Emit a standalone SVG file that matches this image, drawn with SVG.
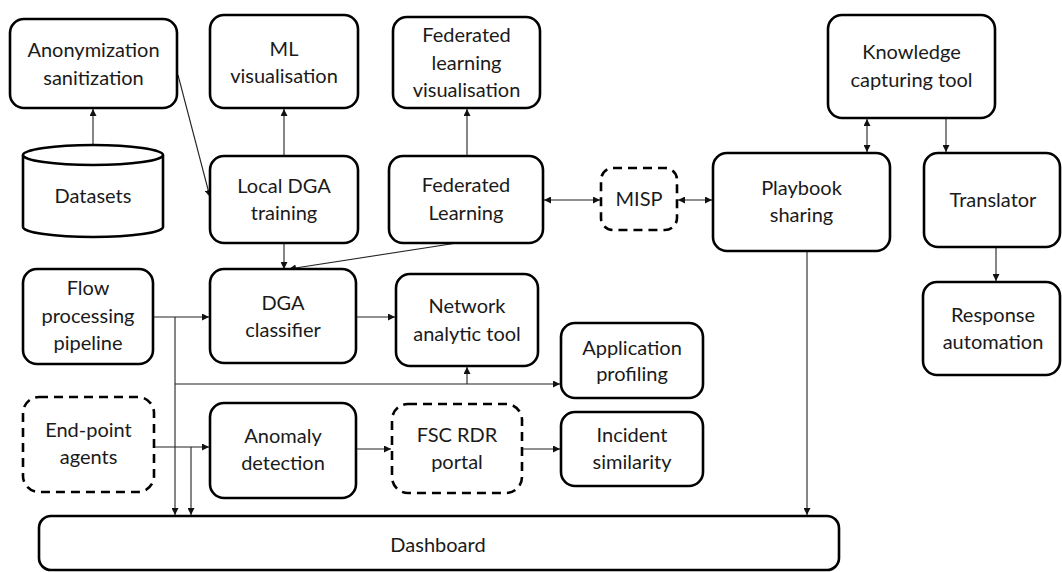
<svg xmlns="http://www.w3.org/2000/svg" width="1062" height="572" viewBox="0 0 1062 572">
<defs>
<style>
.box{fill:#fff;stroke:#000;stroke-width:2.6}
.dash{fill:#fff;stroke:#000;stroke-width:2.6;stroke-dasharray:9 6}
.t{font-family:Lato,"Liberation Sans",sans-serif;font-size:20px;fill:#1a1a1a;text-anchor:middle}
.c{fill:none;stroke:#222;stroke-width:1.1}
</style>
<marker id="a" viewBox="0 0 10 10" refX="10" refY="5" markerWidth="7" markerHeight="7" markerUnits="userSpaceOnUse" orient="auto-start-reverse">
<path d="M0,0L10,5L0,10z" fill="#111"/>
</marker>
</defs>
<rect width="1062" height="572" fill="#fff"/>
<g id="connectors">
<line class="c" x1="93" y1="145" x2="93" y2="109" marker-end="url(#a)"/>
<line class="c" x1="178" y1="75" x2="210" y2="197" marker-end="url(#a)"/>
<line class="c" x1="284" y1="156" x2="284" y2="109" marker-end="url(#a)"/>
<line class="c" x1="467" y1="156" x2="467" y2="109" marker-end="url(#a)"/>
<line class="c" x1="284" y1="243" x2="284" y2="269" marker-end="url(#a)"/>
<line class="c" x1="457" y1="243" x2="289" y2="269" marker-end="url(#a)"/>
<line class="c" x1="544" y1="200" x2="600" y2="200" marker-start="url(#a)" marker-end="url(#a)"/>
<line class="c" x1="678" y1="200" x2="712" y2="200" marker-start="url(#a)" marker-end="url(#a)"/>
<line class="c" x1="867" y1="119" x2="867" y2="152" marker-start="url(#a)" marker-end="url(#a)"/>
<line class="c" x1="946" y1="119" x2="946" y2="152" marker-end="url(#a)"/>
<line class="c" x1="996" y1="248" x2="996" y2="281" marker-end="url(#a)"/>
<line class="c" x1="807" y1="251" x2="807" y2="515" marker-end="url(#a)"/>
<line class="c" x1="154" y1="317" x2="209" y2="317" marker-end="url(#a)"/>
<line class="c" x1="175" y1="317" x2="175" y2="515" marker-end="url(#a)"/>
<line class="c" x1="175" y1="384" x2="560" y2="384" marker-end="url(#a)"/>
<line class="c" x1="467" y1="384" x2="467" y2="367" marker-end="url(#a)"/>
<line class="c" x1="357" y1="317" x2="395" y2="317" marker-end="url(#a)"/>
<line class="c" x1="155" y1="447" x2="209" y2="447" marker-end="url(#a)"/>
<line class="c" x1="191" y1="447" x2="191" y2="515" marker-end="url(#a)"/>
<line class="c" x1="357" y1="449" x2="391" y2="449" marker-end="url(#a)"/>
<line class="c" x1="523" y1="449" x2="560" y2="449" marker-end="url(#a)"/>
</g>
<g id="anonymization"><rect class="box" x="10" y="19" width="167" height="89" rx="14"/><text class="t" x="93.5" y="57">Anonymization</text><text class="t" x="93.5" y="85">sanitization</text></g>
<g id="ml-vis"><rect class="box" x="210" y="15" width="148" height="93" rx="14"/><text class="t" x="284" y="56">ML</text><text class="t" x="284" y="83">visualisation</text></g>
<g id="datasets"><path class="box" d="M23,155 L23,227 A70,10 0 0 0 163,227 L163,155"/><ellipse class="box" cx="93" cy="155" rx="70" ry="10"/><text class="t" x="93" y="203">Datasets</text></g>
<g id="local-dga"><rect class="box" x="210" y="156" width="148" height="87" rx="14"/><text class="t" x="284" y="193">Local DGA</text><text class="t" x="284" y="220">training</text></g>
<g id="fl-vis"><rect class="box" x="393" y="17" width="147" height="91" rx="14"/><text class="t" x="466.5" y="42">Federated</text><text class="t" x="466.5" y="70">learning</text><text class="t" x="466.5" y="97">visualisation</text></g>
<g id="fed-learning"><rect class="box" x="389" y="156" width="154" height="87" rx="14"/><text class="t" x="466" y="192">Federated</text><text class="t" x="466" y="220">Learning</text></g>
<g id="misp"><rect class="dash" x="601" y="168" width="76" height="62" rx="12"/><text class="t" x="639" y="206">MISP</text></g>
<g id="playbook"><rect class="box" x="713" y="153" width="177" height="98" rx="14"/><text class="t" x="801.5" y="195">Playbook</text><text class="t" x="801.5" y="222">sharing</text></g>
<g id="knowledge"><rect class="box" x="828" y="15" width="167" height="103" rx="14"/><text class="t" x="911.5" y="59">Knowledge</text><text class="t" x="911.5" y="87">capturing tool</text></g>
<g id="translator"><rect class="box" x="924" y="153" width="136" height="94" rx="14"/><text class="t" x="993" y="207">Translator</text></g>
<g id="response"><rect class="box" x="923" y="282" width="137" height="93" rx="14"/><text class="t" x="993" y="322">Response</text><text class="t" x="993" y="349">automation</text></g>
<g id="flow"><rect class="box" x="23" y="269" width="130" height="95" rx="14"/><text class="t" x="88" y="295">Flow</text><text class="t" x="88" y="323">processing</text><text class="t" x="88" y="350">pipeline</text></g>
<g id="dga-classifier"><rect class="box" x="210" y="269" width="146" height="94" rx="14"/><text class="t" x="283" y="310">DGA</text><text class="t" x="283" y="337">classifier</text></g>
<g id="network"><rect class="box" x="396" y="274" width="142" height="92" rx="14"/><text class="t" x="467" y="313">Network</text><text class="t" x="467" y="341">analytic tool</text></g>
<g id="app-profiling"><rect class="box" x="561" y="323" width="142" height="75" rx="14"/><text class="t" x="632" y="355">Application</text><text class="t" x="632" y="381">profiling</text></g>
<g id="endpoint"><rect class="dash" x="23" y="397" width="131" height="95" rx="16"/><text class="t" x="88.5" y="437">End-point</text><text class="t" x="88.5" y="464">agents</text></g>
<g id="anomaly"><rect class="box" x="210" y="403" width="146" height="95" rx="14"/><text class="t" x="283" y="443">Anomaly</text><text class="t" x="283" y="470">detection</text></g>
<g id="fsc"><rect class="dash" x="392" y="404" width="130" height="89" rx="16"/><text class="t" x="457" y="442">FSC RDR</text><text class="t" x="457" y="469">portal</text></g>
<g id="incident"><rect class="box" x="561" y="412" width="142" height="74" rx="14"/><text class="t" x="632" y="442">Incident</text><text class="t" x="632" y="469">similarity</text></g>
<g id="dashboard"><rect class="box" x="39" y="516" width="800" height="54" rx="12"/><text class="t" x="438" y="552">Dashboard</text></g>
</svg>
